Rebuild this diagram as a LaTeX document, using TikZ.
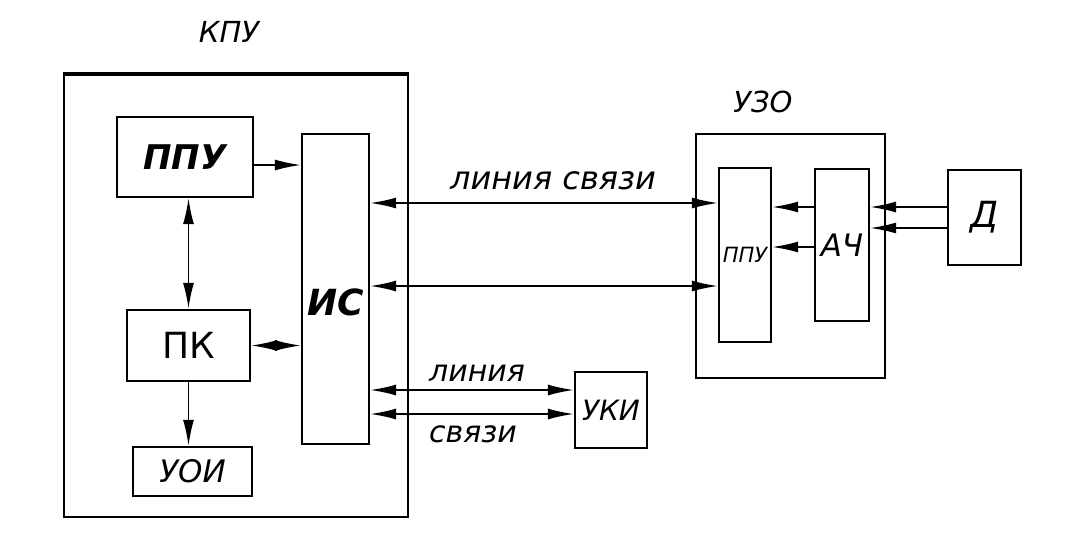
\documentclass[tikz,border=0pt]{standalone}
\usepackage{fontspec}
\setmainfont{DejaVu Sans}
\usetikzlibrary{arrows.meta}
\newcommand{\fsz}[1]{\fontsize{#1}{#1}\selectfont}
\begin{document}
\begin{tikzpicture}[x=1pt,y=-1pt,
  box/.style={draw,line width=2.3pt,inner sep=0pt},
  lbl/.style={inner sep=0pt,font=\itshape},
  con/.style={line width=1.7pt},
  tip/.style={-{Latex[length=26pt,width=11pt]}},
  dtip/.style={{Latex[length=26pt,width=11pt]}-{Latex[length=26pt,width=11pt]}}]
\useasboundingbox (0,0) rectangle (1091,547);
% outer blocks
\node[box,minimum width=344,minimum height=442] (kpu) at (236,296) {};
\draw[line width=3.5pt] (kpu.north west) -- (kpu.north east);
\node[lbl,font=\fsz{29}\itshape] (kput) at (229,32) {КПУ};
\node[box,minimum width=189,minimum height=244] (uzo) at (790.5,256) {};
\node[lbl,font=\fsz{29}\itshape] (uzot) at (763,102) {УЗО};
% inner blocks
\node[box,minimum width=136,minimum height=80,font=\fsz{34}\itshape\bfseries] (ppua) at (185,157) {ППУ};
\node[box,minimum width=67,minimum height=310,font=\fsz{36}\itshape\bfseries] (is) at (335.5,289) {\raisebox{-26pt}[0pt][0pt]{ИС}};
\node[box,minimum width=123,minimum height=71,font=\fsz{36}] (pk) at (188.5,345.5) {ПК};
\node[box,minimum width=119,minimum height=49,font=\fsz{31}\itshape] (uoi) at (192.5,471.5) {УОИ};
\node[box,minimum width=72,minimum height=76,font=\fsz{28}\itshape] (uki) at (611,410) {УКИ};
\node[box,minimum width=52,minimum height=174,font=\fsz{21}\itshape] (ppub) at (745,255) {ППУ};
\node[box,minimum width=54,minimum height=152,font=\fsz{31}\itshape] (ach) at (842,245) {АЧ};
\node[box,minimum width=73,minimum height=95,font=\fsz{36}\itshape] (d) at (984.5,217.5) {Д};
% labels
\node[lbl,font=\fsz{32}\itshape] (ls1) at (553,181) {линия связи};
\node[lbl,font=\fsz{30}\itshape] (ls2) at (477,373) {линия};
\node[lbl,font=\fsz{30}\itshape] (ls3) at (473,434) {связи};
% connectors inside KPU
\draw[con,tip] ([yshift=-8pt]ppua.east) -- ([yshift=124pt]is.west);
\draw[con,dtip] (ppua.south -| pk.north) -- (pk.north);
\draw[con,dtip] (pk.east) -- (pk.east -| is.west);
\draw[con,tip] (pk.south) -- (pk.south |- uoi.north);
% communication lines
\draw[con,dtip] ([yshift=86pt]is.east) -- ([yshift=52pt]ppub.west);
\draw[con,dtip] ([yshift=3pt]is.east) -- ([yshift=-31pt]ppub.west);
\draw[con,dtip] ([yshift=-101pt]is.east) -- ([yshift=20pt]uki.west);
\draw[con,dtip] ([yshift=-125pt]is.east) -- ([yshift=-4pt]uki.west);
% inside UZO
\draw[con,tip] ([yshift=38pt]ach.west) -- ([yshift=48pt]ppub.east);
\draw[con,tip] ([yshift=-2pt]ach.west) -- ([yshift=8pt]ppub.east);
\draw[con,tip] ([yshift=10.5pt]d.west) -- ([yshift=38pt]ach.east);
\draw[con,tip] ([yshift=-10.5pt]d.west) -- ([yshift=17pt]ach.east);
\end{tikzpicture}
\end{document}
